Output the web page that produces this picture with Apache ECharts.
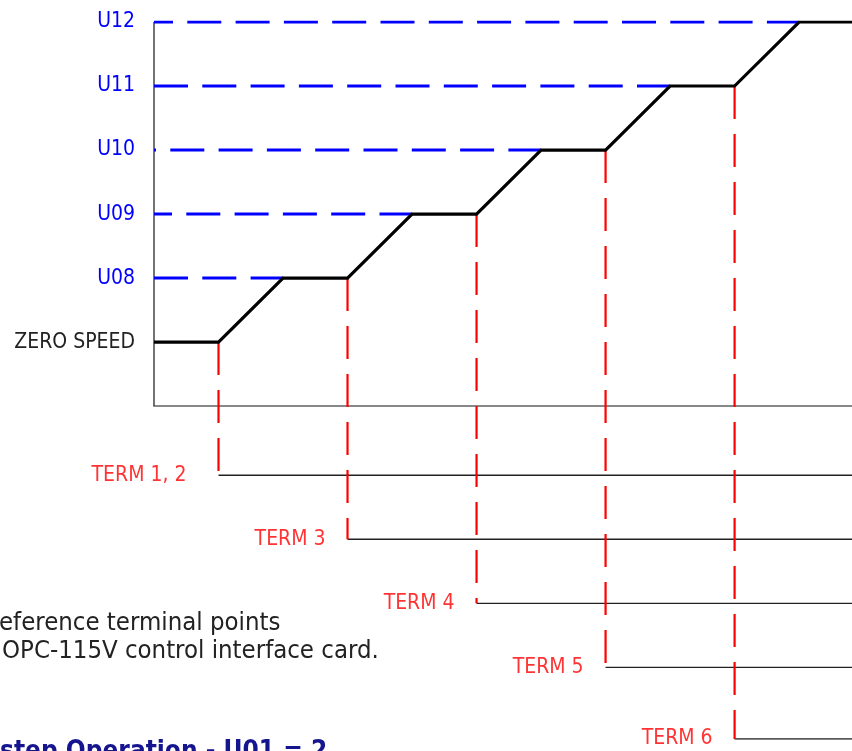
<!DOCTYPE html>
<html>
<head>
<meta charset="utf-8">
<script src="https://cdn.jsdelivr.net/npm/echarts@6/dist/echarts.min.js"></script>
<style>
html,body{margin:0;padding:0;background:#fff;}
#chart{width:852px;height:751px;}
</style>
</head>
<body>
<div id="chart"></div>
<script>
// ---- data ----
const levelNames = ['ZERO SPEED', 'U08', 'U09', 'U10', 'U11', 'U12'];
const levelValues = [1, 2, 3, 4, 5, 6];
const profileX = [0, 1, 2, 3, 4, 5, 6, 7, 8, 9, 10, 10.82];
const profileY = [1, 1, 2, 2, 3, 3, 4, 4, 5, 5, 6, 6];
const refLevelY = [2, 3, 4, 5, 6];        // U08 .. U12
const refEndX = [2, 4, 6, 8, 10];
const termNames = ['TERM 1, 2', 'TERM 3', 'TERM 4', 'TERM 5', 'TERM 6'];
const termX = [1, 3, 5, 7, 9];
const termTopY = [1, 2, 3, 4, 5];
const termLineY = [-1.08, -2.08, -3.08, -4.08, -5.2];
const xMax = 10.82;
const noteLines = ['eference terminal points', 'OPC-115V control interface card.'];
const titleText = 'step Operation - U01 = 2';

// ---- styling ----
const FONT = "'DejaVu Sans Condensed', 'Liberation Sans Narrow', 'DejaVu Sans', sans-serif";
const refDashOffset = [0, 16, 32, 0, 15];
const termLabelGap = [32, 22, 22, 22, 22];

const chart = echarts.init(document.getElementById('chart'), null, {renderer: 'canvas'});
const series = [];

// y axis line (from 0 to top level)
series.push({
  type: 'line', silent: true, symbol: 'none', z: 2,
  data: [[0, 0], [0, levelValues[levelValues.length - 1]]],
  lineStyle: {color: '#444', width: 1.5}
});

// blue dashed reference levels
refLevelY.forEach((y, i) => {
  series.push({
    type: 'line', silent: true, symbol: 'none', z: 3,
    data: [[0, y], [refEndX[i], y]],
    lineStyle: {color: '#0000ff', width: 3, type: [34, 14.3], dashOffset: refDashOffset[i], cap: 'butt'}
  });
});

// terminal red verticals and black horizontals
termX.forEach((x, i) => {
  series.push({
    type: 'line', silent: true, symbol: 'none', z: 3,
    data: [[x, termTopY[i]], [x, termLineY[i]]],
    lineStyle: {color: '#ff0000', width: 2.2, type: [33, 15]}
  });
  series.push({
    type: 'line', silent: true, symbol: 'none', z: 2,
    data: [[x, termLineY[i]], [xMax, termLineY[i]]],
    lineStyle: {color: '#222', width: 1.3}
  });
});

// terminal labels
series.push({
  type: 'scatter', silent: true, symbolSize: 0, z: 5,
  data: termX.map((x, i) => ({
    value: [x, termLineY[i]], name: termNames[i],
    label: {distance: termLabelGap[i]}
  })),
  label: {
    show: true, position: 'left', formatter: p => p.name,
    color: '#ff0000', fontFamily: FONT, fontSize: 21
  }
});

// speed profile
series.push({
  type: 'line', silent: true, symbol: 'none', z: 6,
  data: profileX.map((x, i) => [x, profileY[i]]),
  lineStyle: {color: '#000', width: 3.2, join: 'miter'}
});

chart.setOption({
  animation: false,
  backgroundColor: '#fff',
  grid: {left: 154, right: 0, top: 22, bottom: 12, containLabel: false},
  xAxis: {
    type: 'value', min: 0, max: xMax,
    axisLine: {show: true, onZero: true, lineStyle: {color: '#888', width: 2}},
    axisTick: {show: false}, axisLabel: {show: false}, splitLine: {show: false}
  },
  yAxis: {
    type: 'value', min: -5.2, max: 6,
    axisLine: {show: false}, axisTick: {show: false}, splitLine: {show: false},
    axisLabel: {
      show: true, customValues: levelValues, margin: 19,
      fontFamily: FONT, fontSize: 21,
      formatter: v => {
        const i = levelValues.indexOf(Number(v));
        if (i < 0) return '';
        return (i === 0 ? '{z|' : '{u|') + levelNames[i] + '}';
      },
      rich: {
        z: {color: '#222', fontFamily: FONT, fontSize: 21},
        u: {color: '#0000ff', fontFamily: FONT, fontSize: 21}
      }
    }
  },
  graphic: [
    {type: 'text', silent: true, style: {x: -1, y: 623, text: noteLines[0], fill: '#222',
      font: "25.5px " + FONT, align: 'left', verticalAlign: 'middle'}},
    {type: 'text', silent: true, style: {x: 2, y: 651, text: noteLines[1], fill: '#222',
      font: "25.5px " + FONT, align: 'left', verticalAlign: 'middle'}},
    {type: 'text', silent: true, style: {x: 0, y: 752, text: titleText, fill: '#15158f',
      font: "bold 26px " + FONT, align: 'left', verticalAlign: 'middle'}}
  ],
  series: series
});
</script>
</body>
</html>
